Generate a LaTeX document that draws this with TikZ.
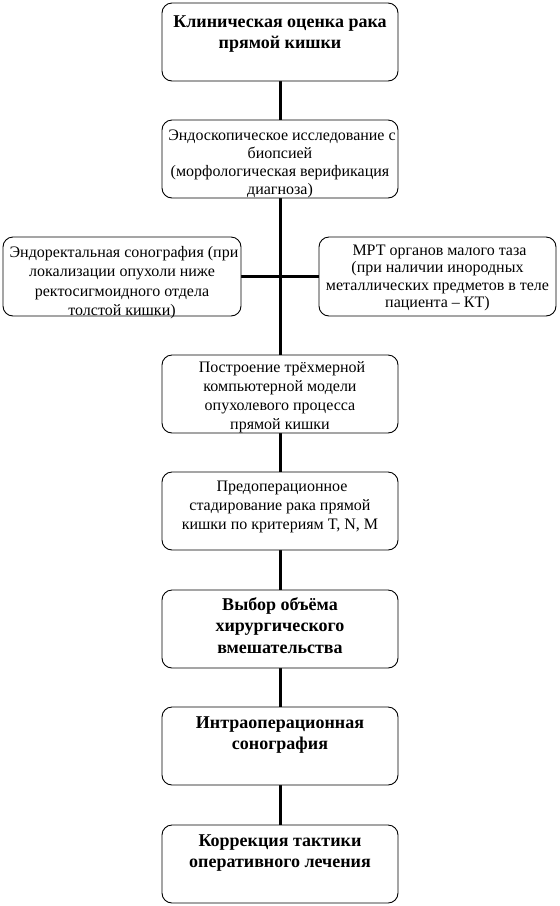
\documentclass[tikz,border=0pt]{standalone}
\usepackage{fontspec}
\setmainfont{Liberation Serif}
\usetikzlibrary{backgrounds}
\newcommand\btxt[3]{\parbox[c][#1][t]{236pt}{\centering\rule{0pt}{#2}#3\par}}
\newcommand\regf[1]{\fontsize{16}{#1}\selectfont}
\newcommand\boldf{\fontsize{18}{21.5}\selectfont\bfseries}
\tikzset{
  x=1pt, y=-1pt,
  box/.style={draw=black, line width=0.9pt, rounded corners=10pt, inner sep=0pt,
    minimum width=236pt, minimum height=78pt, fill=white},
  conn/.style={draw=black, line width=3pt}
}
\begin{document}
\begin{tikzpicture}
\useasboundingbox (0,0) rectangle (560,906);
\node[box] (n1) at (280,42) {\btxt{78pt}{24pt}{\boldf Клиническая оценка рака\\ прямой кишки}};
\node[box] (n2) at (280,159) {\btxt{78pt}{20pt}{\regf{18} Эндоскопическое исследование с\\ биопсией\\ (морфологическая верификация\\ диагноза)}};
\node[box, minimum width=238pt] (nl) at (122,276.5) {\btxt{79pt}{20pt}{\regf{19.5} Эндоректальная сонография (при\\ локализации опухоли ниже\\ ректосигмоидного отдела\\ толстой кишки)}};
\node[box, minimum width=237pt] (nr) at (437.5,276.5) {\btxt{79pt}{18pt}{\regf{17.5} МРТ органов малого таза\\ (при наличии инородных\\ металлических предметов в теле\\ пациента -- КТ)}};
\node[box] (n4) at (280,394) {\btxt{78pt}{17pt}{\regf{19} Построение трёхмерной\\ компьютерной модели\\ опухолевого процесса\\ прямой кишки}};
\node[box] (n5) at (280,511) {\btxt{78pt}{19pt}{\regf{19} Предоперационное\\ стадирование рака прямой\\ кишки по критериям T, N, M}};
\node[box] (n6) at (280,629) {\btxt{78pt}{20pt}{\boldf Выбор объёма\\ хирургического\\ вмешательства}};
\node[box] (n7) at (280,746) {\btxt{78pt}{21pt}{\boldf Интраоперационная\\ сонография}};
\node[box] (n8) at (280,864) {\btxt{78pt}{21pt}{\boldf Коррекция тактики\\ оперативного лечения}};
\begin{scope}[on background layer]
\draw[conn] (n1) -- (n2);
\draw[conn] (n2) -- (n4);
\draw[conn] (nl) -- (nr);
\draw[conn] (n4) -- (n5);
\draw[conn] (n5) -- (n6);
\draw[conn] (n6) -- (n7);
\draw[conn] (n7) -- (n8);
\end{scope}
\end{tikzpicture}
\end{document}
